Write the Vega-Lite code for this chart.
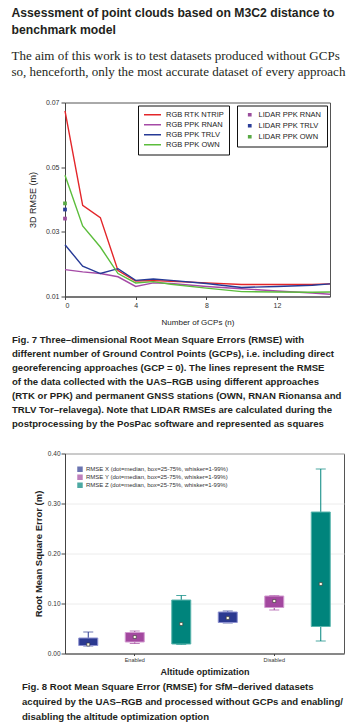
{
  "$schema": "https://vega.github.io/schema/vega-lite/v6.json",
  "background": "white",
  "padding": {"left": 11, "top": 6.5, "right": 4, "bottom": 0},
  "datasets": {
    "lines": [
      {"series": "RGB RTK NTRIP", "n": 0, "rmse": 0.0674},
      {"series": "RGB RTK NTRIP", "n": 1, "rmse": 0.0382},
      {"series": "RGB RTK NTRIP", "n": 2, "rmse": 0.0344},
      {"series": "RGB RTK NTRIP", "n": 3, "rmse": 0.0180},
      {"series": "RGB RTK NTRIP", "n": 4, "rmse": 0.0148},
      {"series": "RGB RTK NTRIP", "n": 5, "rmse": 0.0149},
      {"series": "RGB RTK NTRIP", "n": 6, "rmse": 0.0147},
      {"series": "RGB RTK NTRIP", "n": 8, "rmse": 0.0142},
      {"series": "RGB RTK NTRIP", "n": 10, "rmse": 0.0137},
      {"series": "RGB RTK NTRIP", "n": 12, "rmse": 0.0137},
      {"series": "RGB RTK NTRIP", "n": 14, "rmse": 0.0137},
      {"series": "RGB RTK NTRIP", "n": 15, "rmse": 0.0139},
      {"series": "RGB PPK RNAN", "n": 0, "rmse": 0.0183},
      {"series": "RGB PPK RNAN", "n": 1, "rmse": 0.0176},
      {"series": "RGB PPK RNAN", "n": 2, "rmse": 0.0171},
      {"series": "RGB PPK RNAN", "n": 3, "rmse": 0.0161},
      {"series": "RGB PPK RNAN", "n": 4, "rmse": 0.0131},
      {"series": "RGB PPK RNAN", "n": 5, "rmse": 0.0142},
      {"series": "RGB PPK RNAN", "n": 6, "rmse": 0.0140},
      {"series": "RGB PPK RNAN", "n": 8, "rmse": 0.0131},
      {"series": "RGB PPK RNAN", "n": 10, "rmse": 0.0124},
      {"series": "RGB PPK RNAN", "n": 12, "rmse": 0.0117},
      {"series": "RGB PPK RNAN", "n": 14, "rmse": 0.0111},
      {"series": "RGB PPK RNAN", "n": 15, "rmse": 0.0107},
      {"series": "RGB PPK TRLV", "n": 0, "rmse": 0.0260},
      {"series": "RGB PPK TRLV", "n": 1, "rmse": 0.0194},
      {"series": "RGB PPK TRLV", "n": 2, "rmse": 0.0171},
      {"series": "RGB PPK TRLV", "n": 3, "rmse": 0.0186},
      {"series": "RGB PPK TRLV", "n": 4, "rmse": 0.0150},
      {"series": "RGB PPK TRLV", "n": 5, "rmse": 0.0154},
      {"series": "RGB PPK TRLV", "n": 6, "rmse": 0.0150},
      {"series": "RGB PPK TRLV", "n": 8, "rmse": 0.0140},
      {"series": "RGB PPK TRLV", "n": 10, "rmse": 0.0128},
      {"series": "RGB PPK TRLV", "n": 12, "rmse": 0.0131},
      {"series": "RGB PPK TRLV", "n": 14, "rmse": 0.0135},
      {"series": "RGB PPK TRLV", "n": 15, "rmse": 0.0139},
      {"series": "RGB PPK OWN", "n": 0, "rmse": 0.0475},
      {"series": "RGB PPK OWN", "n": 1, "rmse": 0.0318},
      {"series": "RGB PPK OWN", "n": 2, "rmse": 0.0253},
      {"series": "RGB PPK OWN", "n": 3, "rmse": 0.0171},
      {"series": "RGB PPK OWN", "n": 4, "rmse": 0.0142},
      {"series": "RGB PPK OWN", "n": 5, "rmse": 0.0146},
      {"series": "RGB PPK OWN", "n": 6, "rmse": 0.0138},
      {"series": "RGB PPK OWN", "n": 8, "rmse": 0.0126},
      {"series": "RGB PPK OWN", "n": 10, "rmse": 0.0115},
      {"series": "RGB PPK OWN", "n": 12, "rmse": 0.0114},
      {"series": "RGB PPK OWN", "n": 14, "rmse": 0.0113},
      {"series": "RGB PPK OWN", "n": 15, "rmse": 0.0114}
    ],
    "lidar": [
      {"series": "LIDAR PPK RNAN", "n": 0, "rmse": 0.0341},
      {"series": "LIDAR PPK TRLV", "n": 0, "rmse": 0.0369},
      {"series": "LIDAR PPK OWN", "n": 0, "rmse": 0.0388}
    ],
    "boxes": [
      {"box": "Enabled X", "series": "RMSE X", "lo": 0.015, "q1": 0.016, "med": 0.018, "q3": 0.031, "hi": 0.043},
      {"box": "Enabled Y", "series": "RMSE Y", "lo": 0.020, "q1": 0.023, "med": 0.033, "q3": 0.042, "hi": 0.045},
      {"box": "Enabled Z", "series": "RMSE Z", "lo": 0.018, "q1": 0.019, "med": 0.059, "q3": 0.107, "hi": 0.116},
      {"box": "Disabled X", "series": "RMSE X", "lo": 0.061, "q1": 0.062, "med": 0.071, "q3": 0.083, "hi": 0.085},
      {"box": "Disabled Y", "series": "RMSE Y", "lo": 0.087, "q1": 0.092, "med": 0.105, "q3": 0.115, "hi": 0.116},
      {"box": "Disabled Z", "series": "RMSE Z", "lo": 0.025, "q1": 0.054, "med": 0.139, "q3": 0.283, "hi": 0.369}
    ]
  },
  "title": {
    "text": ["Assessment of point clouds based on M3C2 distance to", "benchmark model"],
    "subtitle": ["The aim of this work is to test datasets produced without GCPs", "so, henceforth, only the most accurate dataset of every approach"],
    "anchor": "start",
    "font": "Liberation Sans",
    "fontSize": 12.2,
    "fontWeight": "bold",
    "color": "#231f20",
    "lineHeight": 17,
    "subtitleFont": "Liberation Serif",
    "subtitleFontSize": 13,
    "subtitleColor": "#231f20",
    "subtitleLineHeight": 16,
    "subtitlePadding": 14,
    "offset": 19
  },
  "columns": 1,
  "align": "none",
  "spacing": 20,
  "resolve": {
    "scale": {"color": "independent", "stroke": "independent", "fill": "independent"},
    "legend": {"color": "independent", "stroke": "independent", "fill": "independent"}
  },
  "concat": [
    {
      "width": 265,
      "height": 194,
      "title": {
        "text": [
          "Fig. 7 Three–dimensional Root Mean Square Errors (RMSE) with",
          "different number of Ground Control Points (GCPs), i.e. including direct",
          "georeferencing approaches (GCP = 0). The lines represent the RMSE",
          "of the data collected with the UAS–RGB using different approaches",
          "(RTK or PPK) and permanent GNSS stations (OWN, RNAN Rionansa and",
          "TRLV Tor–relavega). Note that LIDAR RMSEs are calculated during the",
          "postprocessing by the PosPac software and represented as squares"
        ],
        "orient": "bottom",
        "anchor": "start",
        "frame": "group",
        "dx": -53,
        "offset": 8,
        "font": "Liberation Sans",
        "fontSize": 9.6,
        "fontWeight": "bold",
        "lineHeight": 14,
        "color": "#231f20"
      },
      "layer": [
        {
          "data": {"name": "lines"},
          "mark": {"type": "line", "strokeWidth": 1.4},
          "encoding": {
            "x": {"field": "n", "type": "quantitative", "scale": {"domain": [0, 15], "nice": false, "zero": false},
              "axis": {"values": [0, 2, 4, 6, 8, 10, 12, 14], "title": "Number of GCPs (n)", "grid": false, "titleFontSize": 8, "titleFontWeight": "normal", "labelFontSize": 7, "tickSize": 3, "labelPadding": 2, "titlePadding": 10}},
            "y": {"field": "rmse", "type": "quantitative", "scale": {"domain": [0.01, 0.07], "nice": false, "zero": false},
              "axis": {"values": [0.01, 0.02, 0.03, 0.04, 0.05, 0.06, 0.07], "format": ".2f", "title": "3D RMSE (m)", "grid": false, "titleFontSize": 9, "titleFontWeight": "normal", "labelFontSize": 7, "tickSize": 4, "labelPadding": 2, "titlePadding": 8}},
            "stroke": {"field": "series", "type": "nominal",
              "scale": {"domain": ["RGB RTK NTRIP", "RGB PPK RNAN", "RGB PPK TRLV", "RGB PPK OWN"],
                "range": ["#e3262a", "#a54aa6", "#263a96", "#5cbd3c"]},
              "legend": {
                "title": null, "orient": "top-right", "offset": 3, "strokeColor": "#111", "padding": 5,
                "labelFont": "Liberation Sans", "labelFontSize": 7.5, "labelColor": "#222", "labelOffset": 4,
                "symbolType": "stroke", "symbolSize": 289, "symbolStrokeWidth": 1.5, "clipHeight": 8.5, "rowPadding": 1}}
          }
        },
        {
          "data": {"name": "lidar"},
          "mark": {"type": "square", "filled": true, "size": 14, "opacity": 1},
          "encoding": {
            "x": {"field": "n", "type": "quantitative"},
            "y": {"field": "rmse", "type": "quantitative"},
            "fill": {"field": "series", "type": "nominal",
              "scale": {"domain": ["LIDAR PPK RNAN", "LIDAR PPK TRLV", "LIDAR PPK OWN"], "range": ["#9a4d9c", "#2c3f99", "#59aa45"]},
              "legend": {
                "title": null, "orient": "top-right", "offset": 3, "strokeColor": "#111", "padding": 5,
                "labelFont": "Liberation Sans", "labelFontSize": 7.5, "labelColor": "#222", "labelOffset": 5, "symbolOffset": 4,
                "symbolType": "square", "symbolSize": 14, "symbolStrokeWidth": 0, "clipHeight": 8.5, "rowPadding": 2}}
          }
        }
      ]
    },
    {
      "width": 279,
      "height": 200,
      "data": {"name": "boxes"},
      "title": {
        "text": [
          "Fig. 8 Root Mean Square Error (RMSE) for SfM–derived datasets",
          "acquired by the UAS–RGB and processed without GCPs and enabling/",
          "disabling the altitude optimization option"
        ],
        "orient": "bottom",
        "anchor": "start",
        "frame": "group",
        "dx": -43,
        "offset": 6,
        "font": "Liberation Sans",
        "fontSize": 9.6,
        "fontWeight": "bold",
        "lineHeight": 15,
        "color": "#231f20"
      },
      "encoding": {
        "x": {"field": "box", "type": "nominal",
          "scale": {"domain": ["Enabled X", "Enabled Y", "Enabled Z", "Disabled X", "Disabled Y", "Disabled Z"], "paddingInner": 0, "paddingOuter": 0},
          "axis": {"values": ["Enabled Y", "Disabled Y"], "labelExpr": "datum.value == 'Enabled Y' ? 'Enabled' : 'Disabled'", "title": "Altitude optimization", "labelAngle": 0, "labelFontSize": 5.5, "titleFontSize": 9, "titleFontWeight": "bold", "tickSize": 2, "labelPadding": 2, "titlePadding": 4}}
      },
      "layer": [
        {
          "mark": {"type": "rule", "strokeWidth": 1},
          "encoding": {
            "y": {"field": "lo", "type": "quantitative", "scale": {"domain": [0, 0.4], "nice": false},
              "axis": {"values": [0, 0.05, 0.1, 0.15, 0.2, 0.25, 0.3, 0.35, 0.4], "format": ".2f", "title": "Root Mean Square Error (m)", "grid": true, "gridColor": "#ececec", "labelFontSize": 6.5, "titleFontSize": 9.5, "titleFontWeight": "bold", "tickSize": 4, "labelPadding": 1, "titlePadding": 4}},
            "y2": {"field": "hi"},
            "color": {"field": "series", "type": "nominal",
              "scale": {"domain": ["RMSE X", "RMSE Y", "RMSE Z"], "range": ["#2b3990", "#a3489f", "#00847c"]},
              "legend": {"title": null, "orient": "top-left", "offset": 12, "labelFont": "Liberation Sans", "labelFontSize": 6, "labelColor": "#333",
                "labelExpr": "datum.label + ' (dot=median, box=25-75%, whisker=1-99%)'",
                "symbolType": "square", "symbolSize": 30, "symbolStrokeWidth": 0, "clipHeight": 7.7, "rowPadding": 0, "labelOffset": 3}}
          }
        },
        {
          "mark": {"type": "tick", "size": 10, "thickness": 1},
          "encoding": {"y": {"field": "hi", "type": "quantitative"}, "color": {"field": "series", "type": "nominal"}}
        },
        {
          "mark": {"type": "tick", "size": 10, "thickness": 1},
          "encoding": {"y": {"field": "lo", "type": "quantitative"}, "color": {"field": "series", "type": "nominal"}}
        },
        {
          "mark": {"type": "bar", "size": 19, "strokeWidth": 1, "opacity": 1},
          "encoding": {
            "y": {"field": "q1", "type": "quantitative"},
            "y2": {"field": "q3"},
            "color": {"field": "series", "type": "nominal"},
            "stroke": {"field": "series", "type": "nominal", "scale": {"domain": ["RMSE X", "RMSE Y", "RMSE Z"], "range": ["#8c90d0", "#d29ad0", "#5ab5ad"]}, "legend": null}
          }
        },
        {
          "mark": {"type": "point", "shape": "square", "filled": true, "size": 9, "fill": "#fdfbe6", "stroke": "#333", "strokeWidth": 0.6, "opacity": 1},
          "encoding": {"y": {"field": "med", "type": "quantitative"}}
        }
      ]
    }
  ],
  "config": {
    "font": "Liberation Sans",
    "view": {"stroke": "#555", "strokeWidth": 1},
    "axis": {"domainColor": "#444", "tickColor": "#444", "labelColor": "#333", "titleColor": "#222", "labelFont": "Liberation Sans", "titleFont": "Liberation Sans"}
  }
}
